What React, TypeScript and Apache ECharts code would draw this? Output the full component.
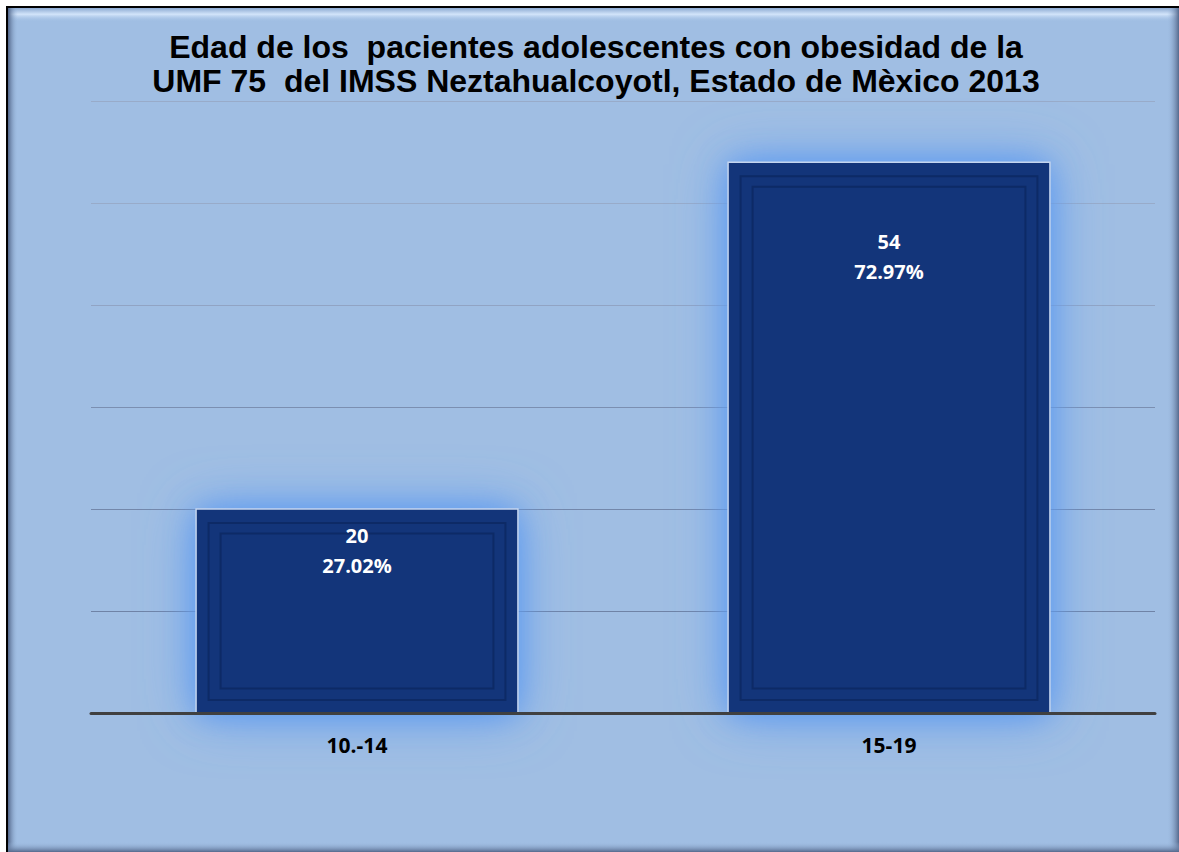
import React, { useEffect, useRef } from "react";
import * as echarts from "echarts";

const categories = ["10.-14", "15-19"];
const counts = [20, 54];
const percents = ["27.02%", "72.97%"];
const titleLines = [
  "Edad de los  pacientes adolescentes con obesidad de la",
  "UMF 75  del IMSS Neztahualcoyotl, Estado de Mèxico 2013",
];

export default function App() {
  const ref = useRef<HTMLDivElement>(null);
  useEffect(() => {
    if (!ref.current) return;
    const chart = echarts.init(ref.current, null, { renderer: "svg" });
    const option: any = {
      animation: false,
      backgroundColor: "#ffffff",
      graphic: [
        {
          type: "rect", z: -10, silent: true,
          shape: { x: 7, y: 7, width: 1185, height: 860 },
          style: { fill: "#A0BEE3", stroke: "#000000", lineWidth: 2 },
        },
        {
          type: "rect", z: -9, silent: true,
          shape: { x: 8, y: 8, width: 1171, height: 14 },
          style: {
            fill: new echarts.graphic.LinearGradient(0, 0, 0, 1, [
              { offset: 0, color: "rgba(140,170,210,1)" },
              { offset: 0.45, color: "rgba(210,228,250,1)" },
              { offset: 1, color: "rgba(160,190,227,0)" },
            ]),
          },
        },
        {
          type: "rect", z: -9, silent: true,
          shape: { x: 8, y: 8, width: 10, height: 844 },
          style: {
            fill: new echarts.graphic.LinearGradient(0, 0, 1, 0, [
              { offset: 0, color: "rgba(80,100,135,1)" },
              { offset: 1, color: "rgba(160,190,227,0)" },
            ]),
          },
        },
        {
          type: "rect", z: -9, silent: true,
          shape: { x: 1167, y: 8, width: 12, height: 844 },
          style: {
            fill: new echarts.graphic.LinearGradient(0, 0, 1, 0, [
              { offset: 0, color: "rgba(160,190,227,0)" },
              { offset: 1, color: "rgba(85,105,140,1)" },
            ]),
          },
        },
        {
          type: "rect", z: -9, silent: true,
          shape: { x: 8, y: 842, width: 1171, height: 10 },
          style: {
            fill: new echarts.graphic.LinearGradient(0, 0, 0, 1, [
              { offset: 0, color: "rgba(160,190,227,0)" },
              { offset: 1, color: "rgba(85,105,140,1)" },
            ]),
          },
        },
        {
          type: "text", z: 10, silent: true,
          x: 596, y: 47,
          style: {
            text: titleLines[0], fill: "#000000",
            font: "bold 32px 'Liberation Sans', Arial, sans-serif",
            align: "center", verticalAlign: "middle",
          },
        },
        {
          type: "text", z: 10, silent: true,
          x: 596, y: 81,
          style: {
            text: titleLines[1], fill: "#000000",
            font: "bold 32px 'Liberation Sans', Arial, sans-serif",
            align: "center", verticalAlign: "middle",
          },
        },
      ],
      grid: { left: 91, right: 24, top: 101, bottom: 139, containLabel: false },
      xAxis: {
        type: "category",
        data: categories,
        z: 10,
        axisLine: { show: true, lineStyle: { color: "#404040", width: 3 } },
        axisTick: { show: false },
        axisLabel: {
          margin: 21,
          color: "#000000",
          fontWeight: "bold",
          fontSize: 21,
          fontFamily: "'Open Sans', sans-serif",
        },
      },
      yAxis: {
        type: "value",
        min: 0, max: 60, interval: 10,
        axisLabel: { show: false },
        axisLine: { show: false },
        axisTick: { show: false },
        splitLine: {
          show: true,
          lineStyle: {
            color: ["#6F83A6", "#6F83A6", "#7387AA", "#7B8FB1", "#91A4C4", "#98ABC9", "#98ABC9"],
            width: 1,
          },
        },
      },
      series: [
        {
          type: "custom",
          data: counts.map((v, i) => [i, v]),
          renderItem: (params: any, api: any) => {
            const x = api.value(0);
            const v = api.value(1);
            const top = api.coord([x, v]);
            const base = api.coord([x, 0]);
            const band = api.size([1, 0])[0];
            const w = band * 0.605;
            const left = top[0] - w / 2;
            const h = base[1] - top[1];
            const pct = percents[params.dataIndex];
            const ly = top[1] + h * 0.155 - 5.6;
            const glow = {
              type: "rect",
              shape: { x: left + 2, y: top[1] + 2, width: w - 4, height: h - 2 },
              style: {
                fill: "rgba(100,155,235,1)",
                shadowBlur: 55,
                shadowColor: "rgba(95,155,240,1)",
              },
            };
            return {
              type: "group",
              children: [
                glow,
                { ...glow, style: { ...glow.style, shadowBlur: 30 } },
                {
                  type: "rect",
                  shape: { x: left, y: top[1], width: w, height: h },
                  style: {
                    fill: "#13357A",
                    stroke: "#C5D5EE",
                    lineWidth: 1.5,
                  },
                },
                {
                  type: "rect",
                  shape: { x: left + 12.5, y: top[1] + 14, width: w - 25, height: h - 27 },
                  style: { fill: "none", stroke: "#0D2A66", lineWidth: 2 },
                },
                {
                  type: "rect",
                  shape: { x: left + 24.5, y: top[1] + 24.5, width: w - 49, height: h - 49 },
                  style: { fill: "none", stroke: "#0D2A66", lineWidth: 2 },
                },
                {
                  type: "text",
                  x: top[0], y: ly,
                  style: {
                    text: String(v), fill: "#ffffff",
                    font: "bold 20px 'Open Sans', sans-serif",
                    align: "center", verticalAlign: "middle",
                  },
                },
                {
                  type: "text",
                  x: top[0], y: ly + 30,
                  style: {
                    text: pct, fill: "#ffffff",
                    font: "bold 20px 'Open Sans', sans-serif",
                    align: "center", verticalAlign: "middle",
                  },
                },
              ],
            };
          },
        },
      ],
    };
    chart.setOption(option);
    return () => chart.dispose();
  }, []);
  return (
    <div
      ref={ref}
      style={{ position: "fixed", left: 0, top: 0, width: 1179, height: 852 }}
    />
  );
}
